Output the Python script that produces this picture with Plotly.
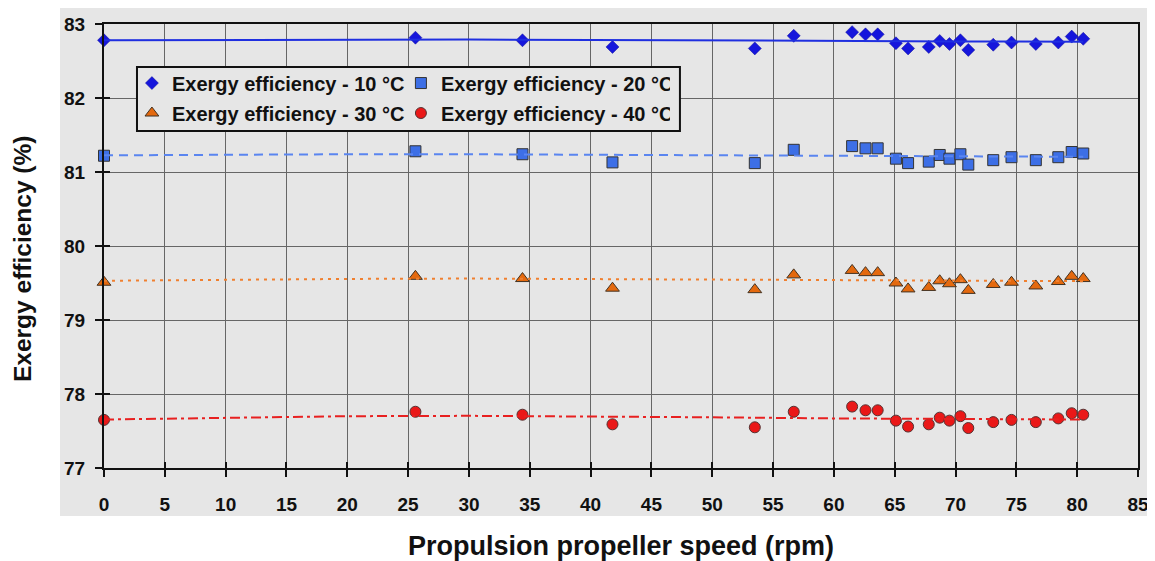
import plotly.graph_objects as go

# Propeller speed (rpm) of the measurements
speed = [0, 25.6, 34.4, 41.8, 53.5, 56.7, 61.5, 62.6, 63.6, 65.1, 66.1, 67.8,
         68.7, 69.5, 70.4, 71.05, 73.1, 74.6, 76.6, 78.45, 79.55, 80.5]

eff_10 = [82.78, 82.815, 82.78, 82.69, 82.67, 82.84, 82.89, 82.86, 82.86, 82.74, 82.67, 82.69,
          82.77, 82.73, 82.78, 82.65, 82.72, 82.75, 82.73, 82.75, 82.83, 82.80]
eff_20 = [81.22, 81.28, 81.24, 81.13, 81.12, 81.30, 81.35, 81.32, 81.32, 81.18, 81.12, 81.14,
          81.23, 81.18, 81.24, 81.10, 81.16, 81.20, 81.16, 81.20, 81.27, 81.25]
eff_30 = [79.51, 79.59, 79.56, 79.43, 79.41, 79.61, 79.67, 79.64, 79.64, 79.50, 79.42, 79.44,
          79.53, 79.49, 79.545, 79.40, 79.48, 79.51, 79.46, 79.52, 79.59, 79.56]
eff_40 = [77.65, 77.76, 77.72, 77.59, 77.55, 77.76, 77.83, 77.78, 77.78, 77.64, 77.56, 77.59,
          77.68, 77.64, 77.70, 77.54, 77.62, 77.65, 77.62, 77.67, 77.74, 77.72]

# Trend lines
trend_x = [0, 10, 20, 30, 40, 50, 60, 70, 80.5]
trend_10 = [82.78, 82.785, 82.79, 82.79, 82.785, 82.775, 82.77, 82.765, 82.76]
trend_20 = [81.225, 81.235, 81.24, 81.24, 81.235, 81.225, 81.215, 81.21, 81.205]
trend_30 = [79.53, 79.545, 79.555, 79.56, 79.555, 79.545, 79.535, 79.53, 79.525]
trend_40 = [77.655, 77.68, 77.70, 77.705, 77.70, 77.685, 77.67, 77.66, 77.655]

names = ["Exergy efficiency - 10 °C", "Exergy efficiency - 20 °C",
         "Exergy efficiency - 30 °C", "Exergy efficiency - 40 °C"]

x_ticks = list(range(0, 90, 5))
y_ticks = [77, 78, 79, 80, 81, 82, 83]

x_title = "Propulsion propeller speed (rpm)"
y_title = "Exergy efficiency (%)"

FONT = "Liberation Sans, Arial, sans-serif"

fig = go.Figure()

# trend lines (drawn on overlay axes that also carry the inside tick marks)
trend_styles = [
    (trend_10, "#1f2fe0", "solid"),
    (trend_20, "#5a85f0", "9px,6px"),
    (trend_30, "#f08030", "3px,5px"),
    (trend_40, "#e82020", "10px,4px,3px,4px"),
]
for vals, col, dash in trend_styles:
    fig.add_trace(go.Scatter(x=trend_x, y=vals, mode="lines", xaxis="x2", yaxis="y2",
                             line=dict(color=col, width=2, dash=dash),
                             showlegend=False, hoverinfo="skip"))

marker_styles = [
    (eff_10, dict(symbol="diamond", size=10, color="#1616dc", line=dict(color="#10109a", width=0.5)), "legend"),
    (eff_20, dict(symbol="square", size=11, color="#3d6fe6", line=dict(color="#333333", width=1)), "legend"),
    (eff_30, dict(symbol="triangle-up", size=12, color="#e4690e", line=dict(color="#443322", width=1)), "legend2"),
    (eff_40, dict(symbol="circle", size=11, color="#ea1818", line=dict(color="#553333", width=1)), "legend2"),
]
for (vals, mk, lg), nm in zip(marker_styles, names):
    fig.add_trace(go.Scatter(x=speed, y=vals, mode="markers", name=nm, marker=mk,
                             cliponaxis=False, legend=lg))

axis_common = dict(showline=True, linecolor="#111111", linewidth=2, mirror=True,
                   ticks="outside", ticklen=7, tickwidth=2, tickcolor="#111111",
                   showgrid=True, gridcolor="#666666", gridwidth=1, zeroline=False,
                   automargin=False,
                   tickfont=dict(family=FONT, size=19, color="#111111", weight="bold"))

legend_common = dict(orientation="h", xanchor="left", yanchor="middle",
                     bgcolor="rgba(0,0,0,0)", borderwidth=0,
                     entrywidth=224, entrywidthmode="pixels",
                     font=dict(family=FONT, size=20, color="#111111", weight="bold"))

# the page body has an 8 px margin, so the figure is 8 px smaller and margins shifted
fig.update_layout(
    template="none",
    width=1147, height=553,
    margin=dict(l=96, r=17, t=16, b=93, autoexpand=False),
    paper_bgcolor="white",
    plot_bgcolor="#e6e6e6",
    xaxis=dict(range=[0, 85], tickvals=x_ticks, ticklabelstandoff=11,
               title=dict(text=x_title, standoff=27,
                          font=dict(family=FONT, size=27, color="#111111", weight="bold")),
               **axis_common),
    yaxis=dict(range=[77, 83], tickvals=y_ticks, ticklabelstandoff=6, **axis_common),
    xaxis2=dict(range=[0, 85], overlaying="x", anchor="y2", tickvals=x_ticks,
                ticks="inside", ticklen=6, tickwidth=2, tickcolor="#111111", automargin=False,
                showticklabels=False, showgrid=False, showline=False, zeroline=False),
    yaxis2=dict(range=[77, 83], overlaying="y", anchor="x2", tickvals=y_ticks,
                ticks="inside", ticklen=6, tickwidth=2, tickcolor="#111111", automargin=False,
                showticklabels=False, showgrid=False, showline=False, zeroline=False),
    legend=dict(x=0.027, y=0.867, **legend_common),
    legend2=dict(x=0.027, y=0.7995, **legend_common),
    annotations=[
        dict(text=y_title, xref="paper", yref="paper", x=-0.0793, y=0.4707,
             xanchor="center", yanchor="middle", textangle=-90, showarrow=False,
             font=dict(family=FONT, size=24.5, color="#111111", weight="bold")),
    ],
    shapes=[
        dict(type="rect", xref="paper", yref="paper", x0=-0.04255, x1=1.02, y0=-0.108, y1=1.04,
             fillcolor="#e6e6e6", line=dict(width=0), layer="below"),
        dict(type="rect", xref="paper", yref="paper", x0=0.0319, x1=0.557, y0=0.759, y1=0.903,
             fillcolor="#e6e6e6", line=dict(color="#111111", width=2), layer="above"),
    ],
)

fig.write_html("out.html")
